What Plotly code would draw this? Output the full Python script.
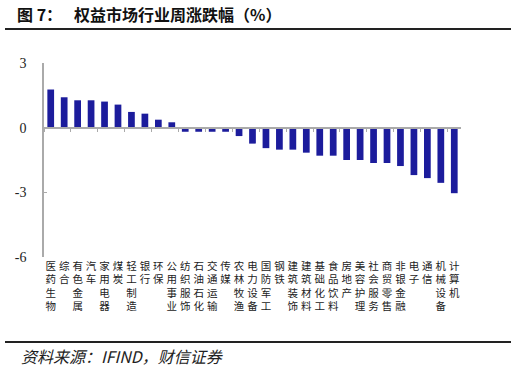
import plotly.graph_objects as go

categories = ["医药生物", "综合", "有色金属", "汽车", "家用电器", "煤炭", "轻工制造", "银行", "环保",
              "公用事业", "纺织服饰", "石油石化", "交通运输", "传媒", "农林牧渔", "电力设备", "国防军工",
              "钢铁", "建筑装饰", "建筑材料", "基础化工", "食品饮料", "房地产", "美容护理", "社会服务",
              "商贸零售", "非银金融", "电子", "通信", "机械设备", "计算机"]
values = [1.77, 1.41, 1.27, 1.27, 1.21, 1.07, 0.73, 0.65, 0.37, 0.25,
          -0.19, -0.19, -0.19, -0.19, -0.39, -0.74, -0.95, -1.02, -1.02, -1.16,
          -1.30, -1.30, -1.50, -1.50, -1.64, -1.64, -1.78, -2.20, -2.34, -2.56, -3.04]
y_ticks = [-6, -3, 0, 3]
y_range = [-6, 3]

title_prefix = "图 7："
title_text = "权益市场行业周涨跌幅（%）"
source_text = "资料来源：IFIND，财信证券"

CJK = "Noto Sans CJK SC"
SERIF = "Liberation Serif"

tick_text = ["<br>".join(list(c)) for c in categories]

fig = go.Figure()
fig.add_trace(go.Bar(x=categories, y=values, marker=dict(color="#1c1c9c", line=dict(width=0)),
                     width=0.5, hoverinfo="x+y"))
# invisible helper trace for the zero-line axis
fig.add_trace(go.Scatter(x=categories, y=[0] * len(categories), mode="markers",
                         marker=dict(opacity=0), xaxis="x2", hoverinfo="skip", showlegend=False))

n = len(categories)
zero_pos = (0 - y_range[0]) / (y_range[1] - y_range[0])

L, T, R, B = 44, 63, 461, 257
pw, ph = R - L, B - T

def px_x(x):
    return (x - L) / pw

def px_y(y):
    return (B - y) / ph

fig.update_layout(
    width=516, height=373,
    margin=dict(l=L, r=516 - R, t=T, b=373 - B, autoexpand=False),
    paper_bgcolor="white", plot_bgcolor="white",
    showlegend=False,
    xaxis=dict(type="category", categoryorder="array", categoryarray=categories,
               range=[-0.5, n - 0.5], tickmode="array", tickvals=categories, ticktext=tick_text,
               showline=False, ticks="", showgrid=False, zeroline=False, automargin=False,
               tickfont=dict(family=CJK, size=10.5, color="#222"), ticklabelstandoff=1),
    xaxis2=dict(type="category", categoryorder="array", categoryarray=categories,
                range=[-0.5, n - 0.5], overlaying="x", anchor="free", position=zero_pos,
                side="bottom", showline=True, linecolor="#aaaaaa", linewidth=2,
                ticks="outside", tickson="boundaries", ticklen=3, tickwidth=1, tickcolor="#aaaaaa",
                showticklabels=False, showgrid=False, zeroline=False),
    yaxis=dict(range=y_range, tickmode="array", tickvals=y_ticks, ticktext=[str(v) for v in y_ticks],
               showline=True, linecolor="#aaaaaa", linewidth=1.5, ticks="inside", ticklen=3,
               tickcolor="#aaaaaa", showgrid=False, zeroline=False, automargin=False,
               tickfont=dict(family=SERIF, size=14, color="#222"), ticklabelstandoff=13),
    bargap=0.5,
)

fig.add_annotation(text="<b>" + title_prefix + "</b>", xref="paper", yref="paper",
                   x=px_x(15), y=px_y(14), xanchor="left", yanchor="middle",
                   showarrow=False, font=dict(family=CJK, size=16, color="#111"))
fig.add_annotation(text="<b>" + title_text + "</b>", xref="paper", yref="paper",
                   x=px_x(72), y=px_y(14), xanchor="left", yanchor="middle",
                   showarrow=False, font=dict(family=CJK, size=16, color="#111"))
fig.add_annotation(text="<i>" + source_text + "</i>", xref="paper", yref="paper",
                   x=px_x(19), y=px_y(356), xanchor="left", yanchor="middle",
                   showarrow=False, font=dict(family=CJK, size=16, color="#222"))

fig.add_shape(type="line", xref="paper", yref="paper", x0=px_x(5), x1=px_x(511),
              y0=px_y(29), y1=px_y(29), line=dict(color="#222", width=2))
fig.add_shape(type="line", xref="paper", yref="paper", x0=px_x(5), x1=px_x(511),
              y0=px_y(342), y1=px_y(342), line=dict(color="#222", width=2))

fig.write_html("out.html", config={"displayModeBar": False},
               post_script="document.body.style.margin='0px';")
